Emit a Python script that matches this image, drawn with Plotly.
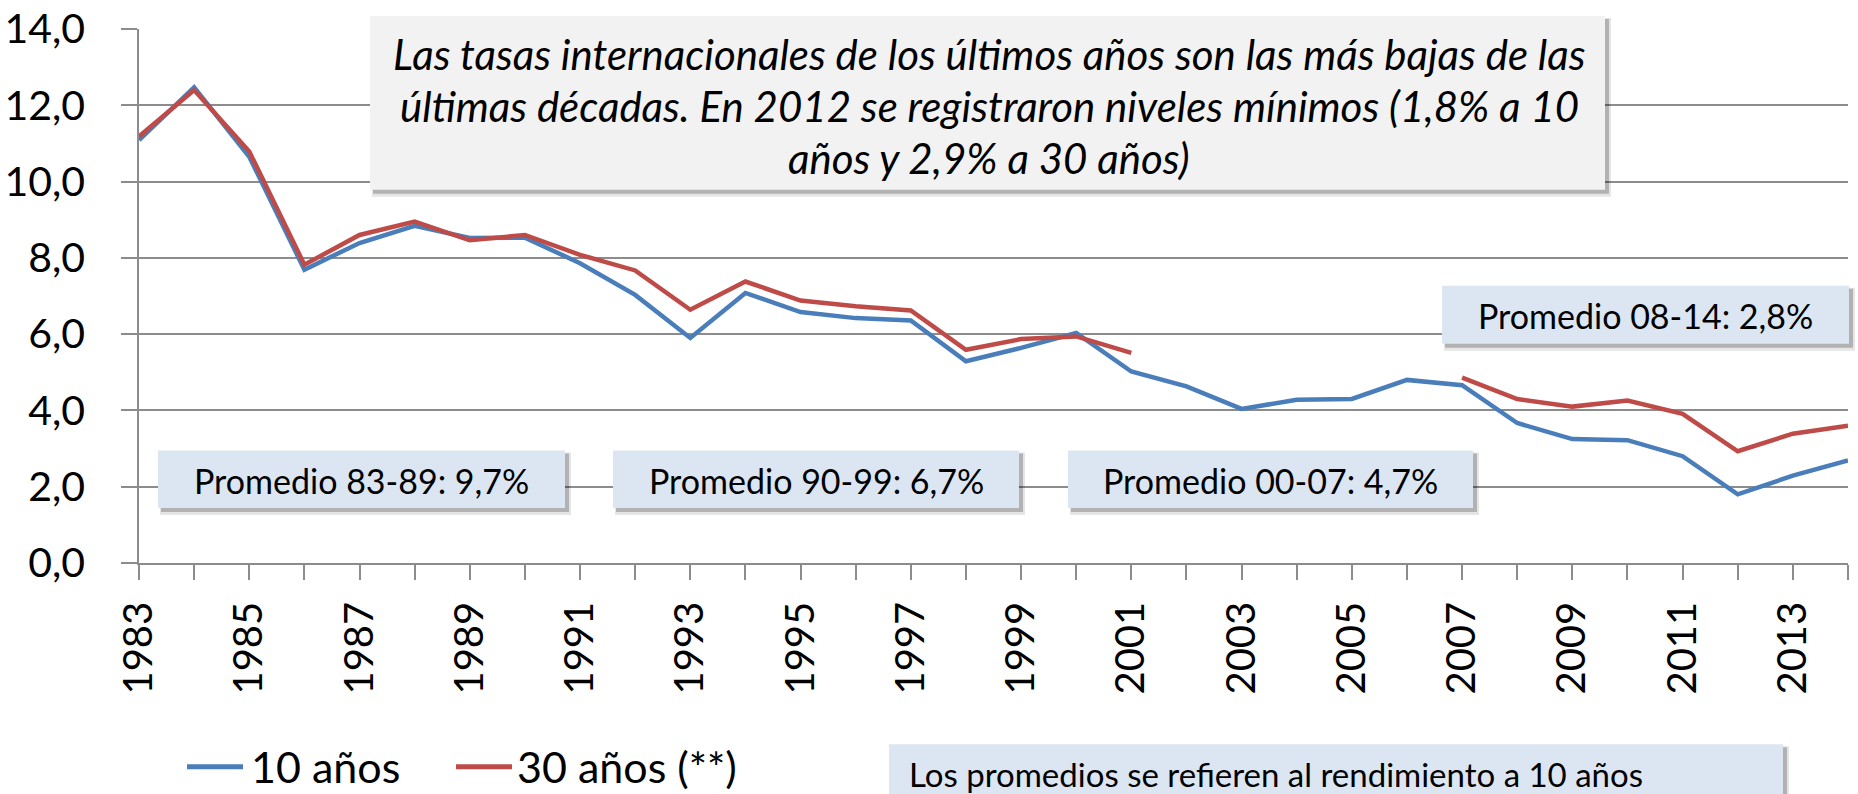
import plotly.graph_objects as go

# ---------------- data ----------------
years = list(range(1983, 2015))
rend_10 = [11.09, 12.47, 10.65, 7.69, 8.39, 8.84, 8.52, 8.53, 7.86, 7.03, 5.90,
           7.08, 6.58, 6.42, 6.36, 5.29, 5.64, 6.03, 5.02, 4.63, 4.04, 4.28,
           4.30, 4.80, 4.66, 3.67, 3.25, 3.22, 2.80, 1.80, 2.29, 2.69]
rend_30 = [11.18, 12.40, 10.79, 7.82, 8.60, 8.95, 8.46, 8.60, 8.08, 7.67, 6.64,
           7.38, 6.88, 6.73, 6.62, 5.59, 5.87, 5.94, 5.51, None, None, None,
           None, None, 4.86, 4.30, 4.10, 4.26, 3.91, 2.93, 3.39, 3.60]
series_names = ["10 años", "30 años (**)"]
tick_text = [str(y) if y % 2 == 1 else "" for y in years]
y_ticks = [0, 2, 4, 6, 8, 10, 12, 14]

promedio_labels = ["Promedio 83-89: 9,7%", "Promedio 90-99: 6,7%",
                   "Promedio 00-07: 4,7%", "Promedio 08-14: 2,8%"]
title_lines = ["Las tasas internacionales de los últimos años son las más bajas de las",
               "últimas décadas. En 2012 se registraron niveles mínimos (1,8% a 10",
               "años y 2,9% a 30 años)"]
nota = "Los promedios se refieren al rendimiento a 10 años"

# ---------------- layout geometry (pixels) ----------------
W, H = 1858, 794
PL, PR, PT, PB = 139, 1848, 29, 563.5

def px(x):
    return (x - PL) / (PR - PL)

def py(y):
    return (PB - y) / (PB - PT)

BLUE = "#4A7EBB"
RED = "#BE4B48"
GRID = "#8C8C8C"
FONT = "Lato, Calibri, Carlito, sans-serif"

fig = go.Figure()
fig.add_trace(go.Scatter(x=years, y=rend_10, mode="lines", name=series_names[0],
                         line=dict(color=BLUE, width=4.5), connectgaps=False,
                         showlegend=False, hoverinfo="x+y"))
fig.add_trace(go.Scatter(x=years, y=rend_30, mode="lines", name=series_names[1],
                         line=dict(color=RED, width=4.5), connectgaps=False,
                         showlegend=False, hoverinfo="x+y"))

shapes = []
annotations = []

def box(x0, y0, x1, y1, fill, text=None, font_size=34):
    # soft shadow
    shapes.append(dict(type="rect", xref="paper", yref="paper", layer="above",
                       x0=px(x0 + 2), x1=px(x1 + 6), y0=py(y0 + 2), y1=py(y1 + 7),
                       fillcolor="rgba(0,0,0,0.10)", line=dict(width=0)))
    shapes.append(dict(type="rect", xref="paper", yref="paper", layer="above",
                       x0=px(x0 + 3), x1=px(x1 + 4), y0=py(y0 + 3), y1=py(y1 + 4),
                       fillcolor="rgba(0,0,0,0.22)", line=dict(width=0)))
    shapes.append(dict(type="rect", xref="paper", yref="paper", layer="above",
                       x0=px(x0), x1=px(x1), y0=py(y0), y1=py(y1),
                       fillcolor=fill, line=dict(width=0)))
    if text is not None:
        annotations.append(dict(xref="paper", yref="paper", x=px((x0 + x1) / 2),
                                y=py((y0 + y1) / 2 + 1), text=text, showarrow=False,
                                xanchor="center", yanchor="middle",
                                font=dict(family=FONT, size=font_size, color="#000000")))

# title box
box(370, 16, 1605, 190, "#F2F2F2")
for line, yc in zip(title_lines, [54, 106, 158]):
    annotations.append(dict(xref="paper", yref="paper", x=px(989), y=py(yc),
                            text="<i>" + line + "</i>", showarrow=False,
                            xanchor="center", yanchor="middle",
                            font=dict(family=FONT, size=42, color="#000000")))

# promedio boxes
box(158, 451, 565, 508.5, "#DCE6F2", promedio_labels[0])
box(613, 451, 1019, 508.5, "#DCE6F2", promedio_labels[1])
box(1068, 451, 1473, 508.5, "#DCE6F2", promedio_labels[2])
box(1442, 286, 1849, 344, "#DCE6F2", promedio_labels[3])

# note box at the bottom
box(889, 745, 1783, 812, "#DCE6F2")
annotations.append(dict(xref="paper", yref="paper", x=px(907), y=py(775),
                        text=nota, showarrow=False, xanchor="left", yanchor="middle",
                        font=dict(family=FONT, size=33, color="#000000")))

# manual legend
leg = [(187, 243, 249, BLUE, series_names[0]), (456, 512, 515, RED, series_names[1])]
for lx0, lx1, tx, col, name in leg:
    shapes.append(dict(type="line", xref="paper", yref="paper", layer="above",
                       x0=px(lx0), x1=px(lx1), y0=py(767.5), y1=py(767.5),
                       line=dict(color=col, width=5)))
    annotations.append(dict(xref="paper", yref="paper", x=px(tx), y=py(767),
                            text=name, showarrow=False, xanchor="left", yanchor="middle",
                            font=dict(family=FONT, size=43, color="#000000")))

fig.update_layout(
    width=W, height=H,
    margin=dict(l=PL, r=W - PR, t=PT, b=H - PB, pad=0, autoexpand=False),
    paper_bgcolor="white", plot_bgcolor="white",
    separators=",.",
    shapes=shapes, annotations=annotations,
    showlegend=False,
    xaxis=dict(range=[years[0], years[-1]], tickmode="array", tickvals=years,
               ticktext=tick_text, tickangle=-90, ticks="outside", ticklen=15,
               tickwidth=1.5, tickcolor=GRID, showgrid=False, zeroline=False,
               showline=True, linecolor=GRID, linewidth=1.5, automargin=False,
               ticklabelstandoff=6,
               tickfont=dict(family=FONT, size=40, color="#000000")),
    yaxis=dict(range=[0, 14], tickmode="array", tickvals=y_ticks, tickformat=".1f",
               ticks="outside", ticklen=16, tickwidth=1.5, tickcolor=GRID,
               showgrid=True, gridcolor=GRID, gridwidth=1.5, zeroline=False,
               showline=True, linecolor=GRID, linewidth=1.5, automargin=False,
               ticklabelstandoff=28,
               tickfont=dict(family=FONT, size=41, color="#000000")),
)

fig.write_html("out.html", config={"displayModeBar": False},
               post_script="document.body.style.margin='0';")
